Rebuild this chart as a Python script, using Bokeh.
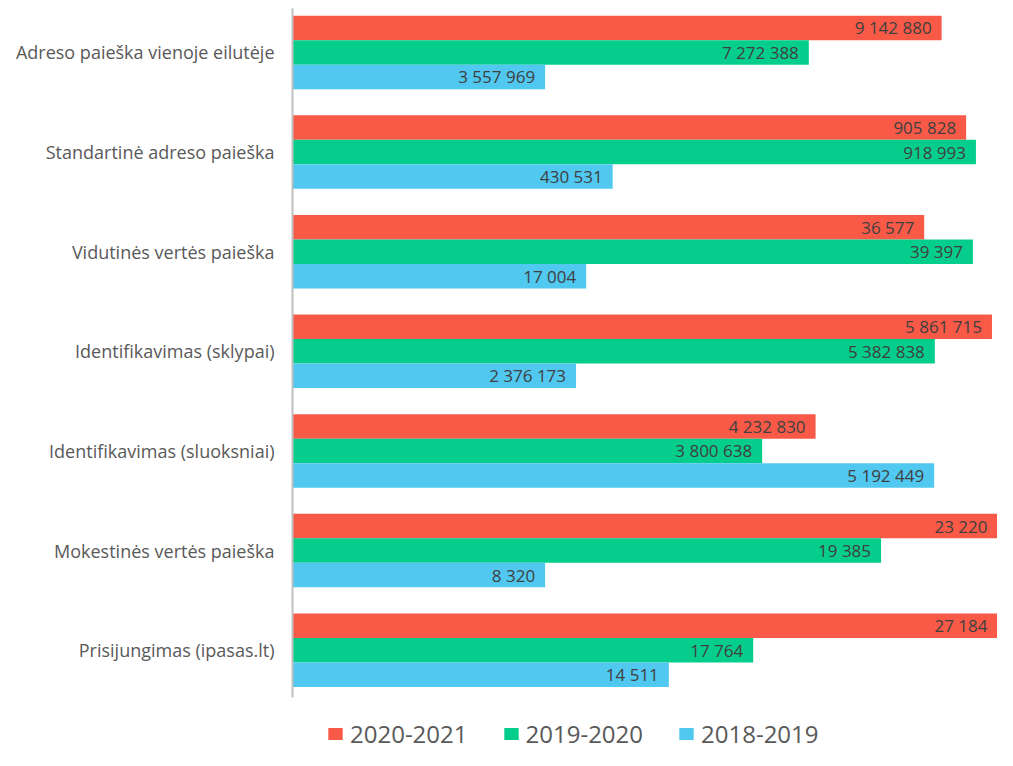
from bokeh.plotting import figure
from bokeh.models import Range1d, FixedTicker, Legend, LegendItem, ColumnDataSource
from bokeh.embed import file_html
from bokeh.resources import INLINE
from bokeh.core.properties import value

categories = [
    "Adreso paieška vienoje eilutėje",
    "Standartinė adreso paieška",
    "Vidutinės vertės paieška",
    "Identifikavimas (sklypai)",
    "Identifikavimas (sluoksniai)",
    "Mokestinės vertės paieška",
    "Prisijungimas (ipasas.lt)",
]
series_names = ["2020-2021", "2019-2020", "2018-2019"]
s_2020_2021 = [9142880, 905828, 36577, 5861715, 4232830, 23220, 27184]
s_2019_2020 = [7272388, 918993, 39397, 5382838, 3800638, 19385, 17764]
s_2018_2019 = [3557969, 430531, 17004, 2376173, 5192449, 8320, 14511]
# each category is drawn on its own value scale (axis maximum per category)
scale_max = [9930000, 948000, 40820, 5908000, 5705000, 23220, 27184]

colors = ["#F95A48", "#05CE8C", "#50C8F0"]
series = [s_2020_2021, s_2019_2020, s_2018_2019]
offsets = [0.246, 0.0, -0.246]
FONT = "Open Sans"

n = len(categories)
ypos = [n - 1 - i for i in range(n)]
y_lo, y_hi = -0.477, n - 1 + 0.442
view_lo, view_hi = -1.007, n - 1 + 0.521

p = figure(width=997, height=750, output_backend="svg", toolbar_location=None,
           x_range=Range1d(0, 1), y_range=Range1d(view_lo, view_hi),
           min_border_left=292, min_border_right=0, min_border_top=0, min_border_bottom=0)
p.outline_line_color = None
p.xaxis.visible = False
p.xgrid.visible = False
p.ygrid.visible = False
p.background_fill_color = "white"
p.border_fill_color = "white"

for i in range(n):
    p.extra_x_ranges[f"g{i}"] = Range1d(0, scale_max[i])

legend_renderers = [None, None, None]
for i in range(n):
    for k in range(3):
        v = series[k][i]
        src = ColumnDataSource(dict(y=[ypos[i] + offsets[k]], x=[v],
                                    lab=[f"{v:,}".replace(",", " ")]))
        r = p.hbar(y="y", right="x", left=0, height=0.246, source=src,
                   fill_color=colors[k], line_color=None, x_range_name=f"g{i}")
        if i == 0:
            legend_renderers[k] = r
        p.text(x="x", y="y", text="lab", source=src, x_range_name=f"g{i}",
               text_align="right", text_baseline="middle", x_offset=-10,
               text_font=value(FONT), text_font_size="17px", text_color="#404040")

p.yaxis.ticker = FixedTicker(ticks=ypos)
p.yaxis.bounds = (y_lo, y_hi)
p.yaxis.major_label_overrides = {ypos[i]: categories[i] for i in range(n)}
p.yaxis.major_tick_line_color = None
p.yaxis.minor_tick_line_color = None
p.yaxis.axis_line_color = "#BFBFBF"
p.yaxis.axis_line_width = 2
p.yaxis.major_label_text_font = FONT
p.yaxis.major_label_text_font_size = "18px"
p.yaxis.major_label_text_color = "#595959"
p.yaxis.major_label_standoff = 12

legend = Legend(items=[LegendItem(label=series_names[k], renderers=[legend_renderers[k]])
                       for k in range(3)],
                orientation="horizontal", location=(34, 0),
                label_text_font=FONT, label_text_font_size="24px", label_text_color="#595959",
                glyph_width=18, glyph_height=15, label_standoff=6, spacing=34,
                border_line_color=None, background_fill_alpha=0, padding=2, margin=0)
p.add_layout(legend, "center")

open("out.html", "w").write(file_html(p, INLINE))
